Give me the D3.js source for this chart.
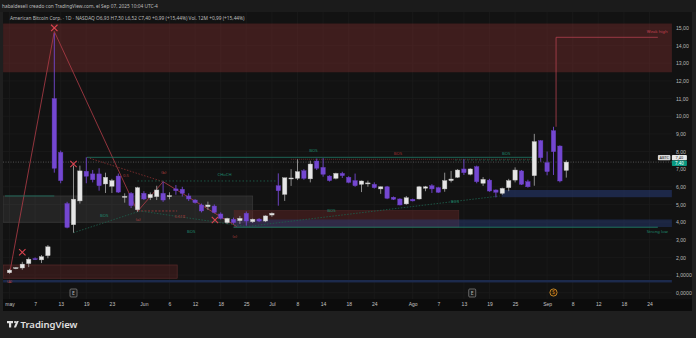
<!DOCTYPE html>
<html>
<head>
<meta charset="utf-8">
<script src="https://cdn.jsdelivr.net/npm/d3@7/dist/d3.min.js"></script>
<style>
  body { margin: 0; background: #1e1e1e; }
  svg { display: block; font-family: "Noto Sans", "DejaVu Sans", sans-serif; }
</style>
</head>
<body>
<svg id="chart" width="696" height="338"></svg>
<script>
// daily candles, May 1 -> Sep 5 2025 (trading-day index)
const opens  = [1.13,1.38,1.40,1.65,1.93,1.86,2.10,11.00,7.95,5.05,3.85,5.20,6.88,6.73,6.73,6.16,6.03,6.61,5.45,5.63,4.70,5.63,5.38,5.44,5.63,5.48,5.88,5.86,5.48,5.25,4.97,4.87,4.91,4.46,3.97,4.16,4.08,4.50,4.02,4.17,4.06,4.40,6.06,5.57,6.46,6.48,6.91,6.45,7.46,7.10,6.61,6.48,6.76,6.54,6.35,6.14,6.18,6.14,5.88,6.00,5.41,5.31,5.03,5.29,5.31,5.92,6.06,5.95,5.88,6.35,6.54,7.01,6.71,7.14,6.20,6.38,5.82,5.63,5.95,6.38,6.90,6.29,6.63,8.61,7.37,9.18,8.31,6.93];
const highs  = [1.35,1.45,1.75,2.00,2.00,2.13,2.70,14.70,8.05,5.15,7.20,7.20,7.67,6.95,7.05,6.80,6.45,6.75,5.63,5.70,6.00,5.75,5.68,6.06,6.29,5.69,6.10,6.00,5.63,5.30,5.05,5.16,5.00,4.55,4.25,4.25,4.35,4.60,4.20,4.22,4.38,4.55,6.76,6.51,7.00,7.56,7.00,7.48,7.60,7.62,6.65,6.80,6.85,6.60,6.75,6.35,6.35,6.25,6.02,6.05,5.45,5.35,5.48,5.33,6.05,6.05,6.15,6.00,6.80,6.90,7.00,7.56,7.05,7.20,6.55,6.45,5.85,5.95,6.45,7.10,6.95,6.40,9.00,8.65,8.00,9.40,8.35,7.50];
const lows   = [1.08,1.33,1.30,1.45,1.85,1.68,1.95,6.80,6.20,3.65,3.40,5.05,6.20,6.25,5.78,5.65,5.65,5.65,5.10,4.80,4.58,5.25,5.25,5.25,5.15,5.29,5.55,5.45,5.20,5.05,4.55,4.69,4.50,4.15,3.88,3.90,3.90,3.80,3.95,4.00,4.00,4.30,4.93,5.20,6.05,6.38,6.40,6.25,6.95,6.57,6.30,6.42,6.50,6.20,6.00,5.70,6.00,5.90,5.60,5.30,5.25,4.95,4.98,5.17,5.28,5.75,5.65,5.65,5.72,6.25,6.50,6.67,6.65,6.20,6.05,5.72,5.40,5.55,5.75,6.25,6.10,5.95,6.06,7.42,6.65,6.67,6.25,6.52];
const closes = [1.28,1.42,1.62,1.90,1.90,2.04,2.60,7.05,6.35,3.70,5.30,6.90,6.60,6.40,6.06,6.54,6.35,5.70,5.46,4.93,5.95,5.31,5.57,5.82,5.25,5.50,5.78,5.63,5.31,5.10,4.63,4.97,4.55,4.21,4.21,3.97,4.21,4.06,4.16,4.06,4.35,4.50,5.78,6.51,6.50,6.86,6.48,7.29,7.05,6.71,6.35,6.76,6.63,6.25,6.06,6.33,6.22,5.95,6.00,5.35,5.29,4.97,5.38,5.20,6.00,6.00,5.88,5.69,6.35,6.44,6.95,6.80,7.01,6.29,6.42,5.76,5.69,5.91,6.35,6.95,6.14,6.00,8.56,7.65,6.86,7.99,6.33,7.40];

const timeLabels = ["may","7","13","19","23","Jun","6","12","18","25","Jul","8","14","18","24","Ago","7","13","19","25","Sep","8","12","18","24"];
const timeIdx    = [0,4,8,12,16,21,25,29,33,37,41,45,49,53,57,63,67,71,75,79,84,88,92,96,100];
const priceTicks = [0,1,2,3,4,5,6,7,8,9,10,11,12,13,14,15];
const lastPrice = 7.40;

// drawings, in (index, price)
const zones = [
  {i0:-1, i1:103.5, p0:12.49, p1:15.25, fill:"rgba(125,45,45,0.42)", stroke:"none"},
  {i0:-1, i1:26.2, p0:0.82, p1:1.57, fill:"rgba(110,40,40,0.35)", stroke:"#5a2a2a"},
  {i0:-1, i1:103.5, p0:0.58, p1:0.72, fill:"#1c2a4c", stroke:"none"},
  {i0:-1, i1:38, p0:3.99, p1:5.48, fill:"rgba(255,255,255,0.08)", stroke:"#3a3a3a"},
  {i0:35.1, i1:70.2, p0:3.72, p1:4.65, fill:"rgba(110,40,40,0.42)", stroke:"#4a2626"},
  {i0:35.1, i1:103.5, p0:3.72, p1:4.15, fill:"rgba(40,62,125,0.45)", stroke:"none"},
  {i0:76.9, i1:103.5, p0:5.41, p1:5.82, fill:"rgba(40,62,125,0.5)", stroke:"none"}
];
const paths = [
  {pts:[[0,1.06],[7,14.8],[20,4.6],[24,6.29],[35.5,3.75]], color:"#b23c48", dash:null, w:0.8},
  {pts:[[12.1,7.67],[24,6.29]], color:"#8a3030", dash:"1.5,1.5", w:0.8},
  {pts:[[20,4.63],[26.2,4.63]], color:"#a23a3a", dash:"2,1.5", w:0.8},
  {pts:[[10,3.40],[20.4,4.63],[37.1,3.75],[76.6,5.48]], color:"#1d5a48", dash:"1.5,1.5", w:0.9},
  {pts:[[12.1,7.67],[81.8,7.67]], color:"#1f6e5e", dash:null, w:0.9},
  {pts:[[20,6.33],[41.8,6.33]], color:"#1d5a48", dash:"1.5,2", w:0.9},
  {pts:[[44,7.56],[81.8,7.56]], color:"#6a2a2a", dash:"1,1", w:0.9},
  {pts:[[69.6,7.52],[81.8,7.52]], color:"#1d5a48", dash:"2,2", w:0.9},
  {pts:[[35,3.71],[101.3,3.71]], color:"#1f7e68", dash:null, w:0.9},
  {pts:[[-0.7,5.48],[7,5.48]], color:"#1f6e5e", dash:null, w:0.9},
  {pts:[[85.4,9.4],[85.4,14.47],[101.3,14.47]], color:"#b3404f", dash:null, w:0.8}
];
const crosses = [[7,15.0],[10,7.29],[2,2.29],[32.1,4.12]];
const labels = [
  {i:0, p:0.66, t:"(A)", c:"#b04040"},
  {i:20.1, p:4.12, t:"(a)", c:"#b04040"},
  {i:24.1, p:6.83, t:"(b)", c:"#b04040"},
  {i:35.2, p:3.17, t:"(c)", c:"#b04040"},
  {i:18.2, p:6.65, t:"0.5", c:"#a03838"},
  {i:26.6, p:4.33, t:"0.618", c:"#a03838"},
  {i:47.5, p:8.03, t:"BOS", c:"#1f8a6e"},
  {i:60.7, p:7.87, t:"BOS", c:"#a03030"},
  {i:77.6, p:7.90, t:"BOS", c:"#1f8a6e"},
  {i:33.6, p:6.67, t:"CHoCH", c:"#1f8a6e"},
  {i:14.8, p:4.35, t:"BOS", c:"#1f8a6e"},
  {i:28.4, p:3.46, t:"BOS", c:"#1f8a6e"},
  {i:50.3, p:4.67, t:"BOS", c:"#1f8a6e"},
  {i:69.6, p:5.16, t:"BOS", c:"#1f8a6e"},
  {i:101.2, p:14.79, t:"Weak high", c:"#c04050"},
  {i:101.2, p:3.46, t:"Strong low", c:"#1f8a6e"}
];
const events = [{i:10, t:"E"}, {i:72.3, t:"E"}, {i:85, t:"S"}];

const svg = d3.select("#chart");
const x = d3.scaleLinear().domain([0, 87]).range([9.5, 566.3]);
const y = d3.scaleLinear().domain([0, 15]).range([292.7, 27.95]);
const pL = 3, pR = x(103.5), pT = 12, pB = 299;

// backgrounds
svg.append("rect").attr("width", 696).attr("height", 338).attr("fill", "#1f1f1f");
svg.append("rect").attr("x", pL).attr("y", pT).attr("width", 692 - pL).attr("height", pB - pT).attr("fill", "#121212");
svg.append("rect").attr("x", pL).attr("y", pB).attr("width", 692 - pL).attr("height", 12).attr("fill", "#0c0c0c");
svg.append("rect").attr("width", 696).attr("height", pT).attr("fill", "#1b1b1b");

svg.append("defs").append("clipPath").attr("id", "plot")
  .append("rect").attr("x", pL).attr("y", pT).attr("width", pR - pL).attr("height", pB - pT);

// grid
const grid = svg.append("g").attr("clip-path", "url(#plot)");
grid.selectAll("line.h").data(priceTicks).enter().append("line")
  .attr("x1", pL).attr("x2", pR).attr("y1", d => y(d)).attr("y2", d => y(d))
  .attr("stroke", "#1b1b1b").attr("stroke-width", 0.8);
grid.selectAll("line.v").data(timeIdx).enter().append("line")
  .attr("x1", d => x(d)).attr("x2", d => x(d)).attr("y1", pT).attr("y2", pB)
  .attr("stroke", "#1b1b1b").attr("stroke-width", 0.8);

const plot = svg.append("g").attr("clip-path", "url(#plot)");

// zones
plot.selectAll("rect.zone").data(zones).enter().append("rect")
  .attr("x", d => x(d.i0)).attr("width", d => x(d.i1) - x(d.i0))
  .attr("y", d => y(d.p1)).attr("height", d => y(d.p0) - y(d.p1))
  .attr("fill", d => d.fill).attr("stroke", d => d.stroke).attr("stroke-width", 0.7);

// last price line
plot.append("line").attr("x1", pL).attr("x2", pR)
  .attr("y1", y(lastPrice)).attr("y2", y(lastPrice))
  .attr("stroke", "#6a6a6a").attr("stroke-width", 0.7).attr("stroke-dasharray", "1,1.5");

// drawings
const line = d3.line().x(d => x(d[0])).y(d => y(d[1]));
plot.selectAll("path.draw").data(paths).enter().append("path")
  .attr("d", d => line(d.pts)).attr("fill", "none")
  .attr("stroke", d => d.color).attr("stroke-width", d => d.w)
  .attr("stroke-dasharray", d => d.dash);

// candles
const data = opens.map((o, i) => ({i, o, h: highs[i], l: lows[i], c: closes[i]}));
const bull = "#e6e6e6", bear = "#7447d1";
const cg = plot.selectAll("g.candle").data(data).enter().append("g");
cg.append("line")
  .attr("x1", d => x(d.i)).attr("x2", d => x(d.i))
  .attr("y1", d => y(d.h)).attr("y2", d => y(d.l))
  .attr("stroke", d => d.c >= d.o ? "#9a9a9a" : bear).attr("stroke-width", 0.9);
cg.append("rect")
  .attr("x", d => x(d.i) - 2.2).attr("width", 4.4)
  .attr("y", d => y(Math.max(d.o, d.c)))
  .attr("height", d => Math.max(1, Math.abs(y(d.o) - y(d.c))))
  .attr("fill", d => d.c >= d.o ? bull : bear)
  .attr("stroke", d => d.c >= d.o ? "#bdbdbd" : "#6a3fc4").attr("stroke-width", 0.4);

// X marks
crosses.forEach(([i, p]) => {
  const cx = x(i), cy = y(p), r = 3.2;
  plot.append("path")
    .attr("d", `M${cx - r},${cy - r}L${cx + r},${cy + r}M${cx - r},${cy + r}L${cx + r},${cy - r}`)
    .attr("stroke", "#d9434f").attr("stroke-width", 1.1);
});

// labels
plot.selectAll("text.lab").data(labels).enter().append("text")
  .attr("x", d => x(d.i)).attr("y", d => y(d.p)).attr("dy", "0.35em")
  .attr("text-anchor", "middle").attr("font-size", 4.2).attr("fill", d => d.c)
  .text(d => d.t);

// price axis
const yAxis = svg.append("g").attr("transform", `translate(${pR + 4},0)`)
  .call(d3.axisRight(y).tickValues(priceTicks).tickSize(0)
    .tickFormat(d => d <= 1 ? d.toFixed(4).replace(".", ",") : d.toFixed(2).replace(".", ",")));
yAxis.select(".domain").remove();
yAxis.selectAll("text").attr("fill", "#b8b8b8").attr("font-size", 5.2).attr("x", 0);

// last price tags
const tagY = y(lastPrice);
svg.append("rect").attr("x", pR - 14).attr("y", tagY - 7.0).attr("width", 12.5).attr("height", 5.2)
  .attr("fill", "#d6d6d6").attr("rx", 0.8);
svg.append("text").attr("x", pR - 7.7).attr("y", tagY - 4.4).attr("dy", "0.35em")
  .attr("text-anchor", "middle").attr("font-size", 3.9).attr("fill", "#222").text("ABTC");
svg.append("rect").attr("x", pR).attr("y", tagY - 7.0).attr("width", 15).attr("height", 5.2)
  .attr("fill", "#e8e8e8").attr("rx", 0.8);
svg.append("text").attr("x", pR + 7.5).attr("y", tagY - 4.4).attr("dy", "0.35em")
  .attr("text-anchor", "middle").attr("font-size", 3.9).attr("fill", "#222").text("7,40");
svg.append("rect").attr("x", pR).attr("y", tagY - 1.6).attr("width", 15).attr("height", 5.6)
  .attr("fill", "#089981").attr("rx", 0.8);
svg.append("text").attr("x", pR + 7.5).attr("y", tagY + 1.2).attr("dy", "0.35em")
  .attr("text-anchor", "middle").attr("font-size", 4.4).attr("fill", "#fff").text("7,40");

// time axis
const xAxis = svg.append("g").attr("transform", `translate(0,${pB + 1})`)
  .call(d3.axisBottom(x).tickValues(timeIdx).tickSize(0)
    .tickFormat((d, k) => timeLabels[k]));
xAxis.select(".domain").remove();
xAxis.selectAll("text").attr("fill", "#c4c4c4").attr("font-size", 5).attr("y", 2.5);

// event markers
events.forEach(e => {
  const ex = x(e.i);
  if (e.t === "S") {
    svg.append("circle").attr("cx", ex).attr("cy", 292.5).attr("r", 3.6)
      .attr("fill", "#2a1c08").attr("stroke", "#e39a2c").attr("stroke-width", 0.8);
    svg.append("text").attr("x", ex).attr("y", 292.5).attr("dy", "0.35em").attr("text-anchor", "middle")
      .attr("font-size", 4.5).attr("fill", "#e39a2c").text("S");
  } else {
    svg.append("rect").attr("x", ex - 3.5).attr("y", 289).attr("width", 7).attr("height", 8)
      .attr("fill", "#1a1a1a").attr("stroke", "#8a8a8a").attr("stroke-width", 0.7).attr("rx", 1);
    svg.append("text").attr("x", ex).attr("y", 293).attr("dy", "0.35em").attr("text-anchor", "middle")
      .attr("font-size", 5).attr("fill", "#bbb").text("E");
  }
});

// header
svg.append("text").attr("x", 2).attr("y", 8.2).attr("font-size", 4.8).attr("fill", "#bdbdbd")
  .text("habaldeseli creado con TradingView.com, el Sep 07, 2025 10:04 UTC-4");
svg.append("text").attr("x", 10).attr("y", 20).attr("font-size", 4.8).attr("fill", "#bdbdbd")
  .text("American Bitcoin Corp. · 1D · NASDAQ   O6,93  H7,50  L6,52  C7,40  +0,99 (+15,44%)   Vol. 12M  +0,99 (+15,44%)");

// logo
const logo = svg.append("g").attr("transform", "translate(7,321)");
logo.append("path").attr("d", "M0,0H6V2.2H4.2V6.5H2V2.2H0Z M6.8,6.5L9.6,0H11.8L9,6.5Z").attr("fill", "#e0e0e0");
logo.append("circle").attr("cx", 8.1).attr("cy", 1.1).attr("r", 1.1).attr("fill", "#e0e0e0");
svg.append("text").attr("x", 20.5).attr("y", 328).attr("font-size", 9.5).attr("font-weight", 600)
  .attr("fill", "#e0e0e0").text("TradingView");
</script>
</body>
</html>
